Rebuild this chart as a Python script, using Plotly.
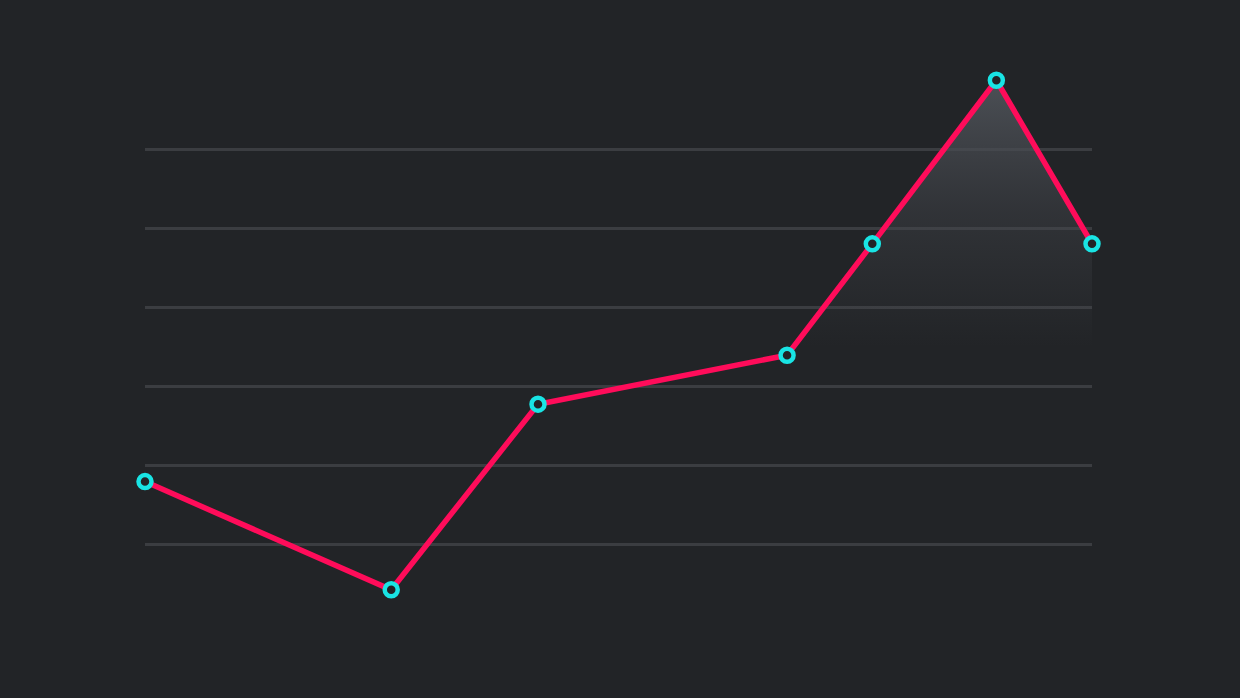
import plotly.graph_objects as go

# data (y in gridline units, gridline 0 = lowest line)
x_vals = [0, 26, 41.5, 67.8, 76.8, 89.9, 100]
y_vals = [0.79, -0.58, 1.77, 2.39, 3.80, 5.87, 3.80]
grid_vals = [0, 1, 2, 3, 4, 5]

bg = '#222427'
line_col = '#ff0c5a'
dot_col = '#19e4e4'

fig = go.Figure()

# soft glow under the peak
fig.add_trace(go.Scatter(
    x=x_vals, y=y_vals,
    mode='none',
    fill='tozeroy',
    fillgradient=dict(
        type='vertical',
        colorscale=[[0, 'rgba(70,73,79,0)'], [0.5, 'rgba(70,73,79,0.4)'], [1, 'rgba(78,82,88,0.95)']],
        start=2.5,
        stop=5.87,
    ),
    hoverinfo='skip',
    showlegend=False,
))

fig.add_trace(go.Scatter(
    x=x_vals, y=y_vals,
    mode='lines+markers',
    line=dict(color=line_col, width=5.5),
    marker=dict(symbol='circle', size=13, color=bg,
                line=dict(color=dot_col, width=4.5)),
    cliponaxis=False,
    showlegend=False,
))

fig.update_layout(
    width=1240, height=698,
    plot_bgcolor=bg,
    paper_bgcolor=bg,
    margin=dict(l=145, r=148, t=60, b=60),
    xaxis=dict(
        range=[0, 100],
        showgrid=False, zeroline=False,
        showticklabels=False, ticks='',
    ),
    yaxis=dict(
        range=[-1.19, 6.127],
        tickvals=grid_vals,
        showgrid=True,
        gridcolor='#3b3d41',
        gridwidth=2.5,
        zeroline=False,
        showticklabels=False, ticks='',
    ),
)

fig.write_html(
    "out.html",
    config={'displayModeBar': False},
    post_script="document.body.style.margin='0';document.body.style.background='#222427';document.body.style.overflow='hidden';",
)
